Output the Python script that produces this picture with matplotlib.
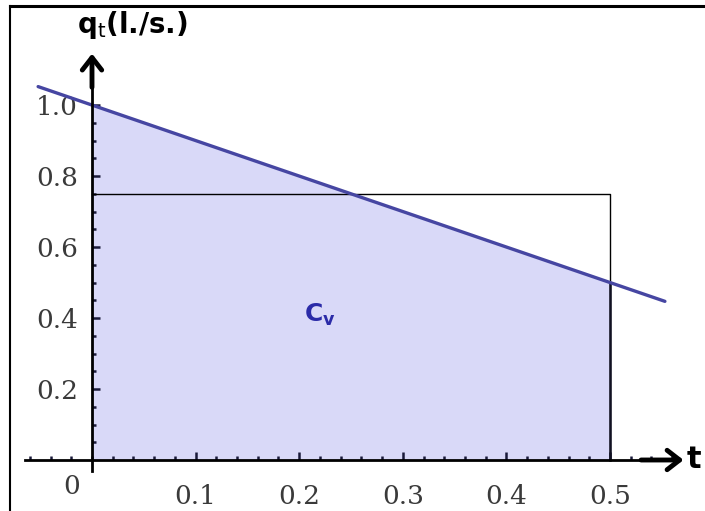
import matplotlib.pyplot as plt
import matplotlib.lines as mlines
import numpy as np

# flow rate q_t = 1 - t, shown from t=-0.05 to 0.555
line_t = [-0.052, 0.553]
line_q = [1.052, 0.447]
fill_t = [0.0, 0.5]
fill_q = [1.0, 0.5]
rect_t = 0.5
rect_q = 0.75

xticks = [0.1, 0.2, 0.3, 0.4, 0.5]
yticks = [0.2, 0.4, 0.6, 0.8, 1.0]

line_color = '#4646a2'
fill_color = '#d9d9f8'
label_color = '#2b2ba8'

fig = plt.figure(figsize=(7.05, 5.11), dpi=100)
ax = fig.add_axes([0, 0, 1, 1])
ax.set_xlim(-0.0888, 0.5917)
ax.set_ylim(-0.1437, 1.296)

ax.fill_between(fill_t, fill_q, 0, color=fill_color, lw=0, zorder=1)
ax.plot(line_t, line_q, color=line_color, lw=2.4, solid_capstyle='round', zorder=4)
ax.plot([0, rect_t, rect_t], [rect_q, rect_q, 0], color='black', lw=1.0, zorder=3)
ax.plot([rect_t, rect_t], [0, fill_q[-1]], color='#111122', lw=1.8, zorder=3)

# axes through the origin
for side in ['top', 'right']:
    ax.spines[side].set_visible(False)
ax.spines['left'].set_position(('data', 0))
ax.spines['bottom'].set_position(('data', 0))
ax.spines['left'].set_bounds(-0.03, 1.12)
ax.spines['bottom'].set_bounds(-0.065, 0.56)
ax.spines['left'].set_linewidth(2)
ax.spines['bottom'].set_linewidth(2)
ax.spines['left'].set_zorder(5)
ax.spines['bottom'].set_zorder(5)

arrow = dict(arrowstyle='->,head_length=0.9,head_width=0.7', lw=3.5, color='black',
             shrinkA=0, shrinkB=0)
ax.annotate('', xy=(0.571, 0), xytext=(0.53, 0), arrowprops=arrow)
ax.annotate('', xy=(0, 1.145), xytext=(0, 1.05), arrowprops=arrow)

ax.set_xticks(xticks)
ax.set_xticks(np.arange(-0.06, 0.57, 0.02), minor=True)
ax.set_yticks(yticks)
ax.set_yticks(np.arange(0.05, 1.01, 0.05), minor=True)
ax.set_xticklabels([f'{v:.1f}' for v in xticks])
ax.set_yticklabels([f'{v:.1f}' for v in yticks])
ax.tick_params(which='major', direction='in', length=6, width=1.8, color='#1a1a3a')
ax.tick_params(which='minor', direction='in', length=3, width=1.8, color='#1a1a3a')
ax.tick_params(axis='x', pad=17)
ax.tick_params(axis='y', pad=10)
for lab in ax.get_xticklabels() + ax.get_yticklabels():
    lab.set_fontfamily('DejaVu Serif')
    lab.set_fontsize(19)
    lab.set_color('#3a3a3a')

ax.text(-0.012, -0.076, '0', ha='right', va='center', fontsize=19,
        family='DejaVu Serif', color='#3a3a3a')

ax.text(-0.014, 1.203, r'$\mathbf{q}_{\mathrm{t}}$(l./s.)', fontsize=20, fontweight='bold',
        ha='left', va='baseline')
ax.text(0.574, 0, 't', fontsize=22, fontweight='bold', ha='left', va='center')
ax.text(0.22, 0.41, r'$\mathbf{C}_{\mathbf{v}}$', fontsize=18, color=label_color,
        ha='center', va='center')

# outer frame
fig.add_artist(mlines.Line2D([10 / 705, 10 / 705], [0, 1 - 6 / 511], color='black', lw=1.5))
fig.add_artist(mlines.Line2D([10 / 705, 1], [1 - 6 / 511, 1 - 6 / 511], color='black', lw=2.2))

fig.savefig('out.png', dpi=100)
